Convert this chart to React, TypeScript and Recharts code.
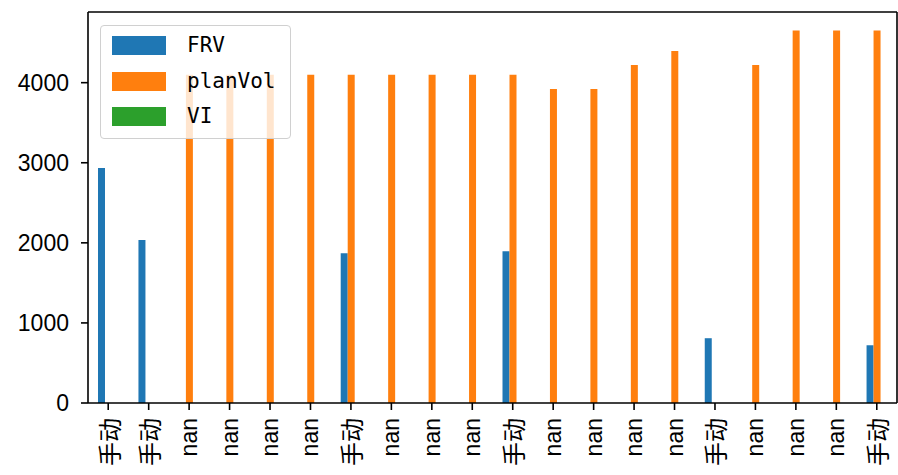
import { BarChart, Bar, XAxis, YAxis } from "recharts";

const categories = [
  "手动", "手动", "nan", "nan", "nan", "nan", "手动", "nan", "nan", "nan",
  "手动", "nan", "nan", "nan", "nan", "手动", "nan", "nan", "nan", "手动",
];
const frv = [2934, 2034, null, null, null, null, 1871, null, null, null, 1896, null, null, null, null, 809, null, null, null, 721];
const planVol = [null, null, 4100, 4100, 4100, 4100, 4100, 4100, 4100, 4100, 4100, 3920, 3920, 4221, 4396, null, 4221, 4650, 4650, 4650];
const vi = categories.map(() => null as number | null);
const yTicks = [0, 1000, 2000, 3000, 4000];

const series = [
  { key: "FRV", label: "FRV", color: "#1f77b4" },
  { key: "planVol", label: "planVol", color: "#ff7f0e" },
  { key: "VI", label: "VI", color: "#2ca02c" },
];

const data = categories.map((c, i) => ({
  idx: i,
  name: c,
  FRV: frv[i],
  planVol: planVol[i],
  VI: vi[i],
}));

const tickFont = "'Liberation Sans', 'Noto Sans CJK SC', sans-serif";
const axisStyle = { stroke: "#000", strokeWidth: 1.6 };

function XTick(props: any) {
  const { x, y, payload } = props;
  const label = categories[payload.value];
  const cjk = /[^\x00-\x7f]/.test(label);
  return (
    <text
      x={0}
      y={0}
      transform={`translate(${x},${y + 6}) rotate(-90)`}
      textAnchor="end"
      dominantBaseline="central"
      fontSize={cjk ? 24 : 23}
      fontFamily={cjk ? "'Noto Sans CJK SC', sans-serif" : tickFont}
      fill="#000"
    >
      {label}
    </text>
  );
}

export default function App() {
  return (
    <div style={{ position: "absolute", left: 0, top: 0, width: 898, height: 475, background: "#fff" }}>
      <BarChart
        width={898}
        height={475}
        data={data}
        margin={{ top: 11, right: 0, bottom: 0, left: 0 }}
        barGap={0}
        barCategoryGap={0}
      >
        <XAxis
          dataKey="idx"
          type="category"
          height={72}
          interval={0}
          tick={<XTick />}
          tickSize={7}
          axisLine={axisStyle}
          tickLine={axisStyle}
        />
        <XAxis
          xAxisId="top"
          dataKey="idx"
          orientation="top"
          height={1}
          tick={false}
          tickLine={false}
          axisLine={axisStyle}
        />
        <YAxis
          width={88}
          domain={[0, 4882.5]}
          ticks={yTicks}
          interval={0}
          tickSize={7}
          tickMargin={12}
          tick={{ fontSize: 23, fontFamily: tickFont, fill: "#000" }}
          axisLine={axisStyle}
          tickLine={axisStyle}
          allowDataOverflow
        />
        <YAxis
          yAxisId="right"
          orientation="right"
          width={1}
          domain={[0, 4882.5]}
          tick={false}
          tickLine={false}
          axisLine={axisStyle}
        />
        {series.map((s) => (
          <Bar key={s.key} dataKey={s.key} fill={s.color} barSize={7} isAnimationActive={false} />
        ))}
      </BarChart>
      <div
        style={{
          position: "absolute",
          left: 100,
          top: 25,
          width: 189,
          height: 112,
          background: "rgba(255,255,255,0.8)",
          border: "1px solid #d0d0d0",
          borderRadius: 4,
        }}
      >
        {series.map((s, i) => (
          <div key={s.key} style={{ position: "absolute", left: 11, top: 10 + i * 35.5, height: 19, display: "flex", alignItems: "center" }}>
            <div style={{ width: 54, height: 19, background: s.color }} />
            <span
              style={{
                marginLeft: 21,
                fontSize: 21,
                fontFamily: "'DejaVu Sans Mono', 'Noto Sans CJK SC', monospace",
                color: "#000",
                lineHeight: "19px",
              }}
            >
              {s.label}
            </span>
          </div>
        ))}
      </div>
    </div>
  );
}
